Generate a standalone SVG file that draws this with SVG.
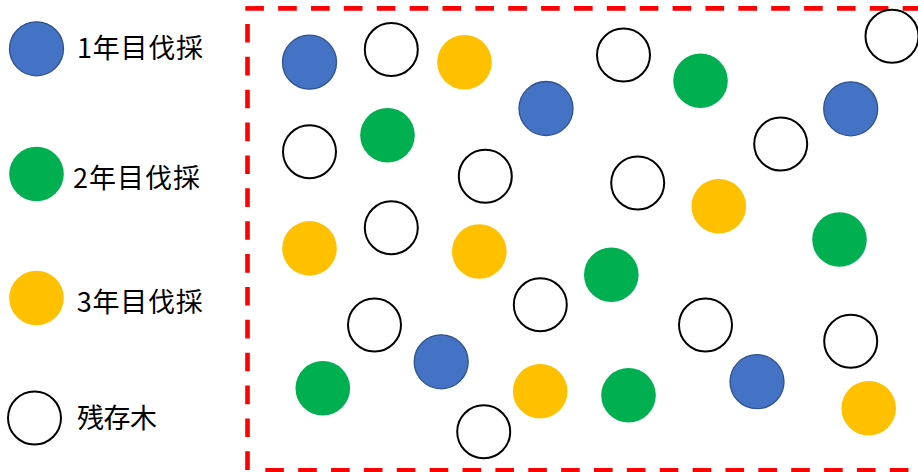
<svg xmlns="http://www.w3.org/2000/svg" width="918" height="472" viewBox="0 0 918 472">
<style>
.y1{fill:#4472C4;stroke:#2F528F;stroke-width:1.3}
.y2{fill:#00B050}
.y3{fill:#FFC000}
.rt{fill:#FFFFFF;stroke:#000000;stroke-width:2}
.lbl{font-family:"Noto Sans CJK JP","Noto Sans",sans-serif;font-size:27px;fill:#000000}
.dash{fill:none;stroke:#FF0000;stroke-width:4.6;stroke-dasharray:18.6 14.27}
</style>
<rect width="918" height="472" fill="#FFFFFF"/>
<g id="legend">
  <g id="legend-1"><circle class="y1" cx="36.5" cy="48.8" r="27"/><text class="lbl" x="77" y="58" textLength="126" lengthAdjust="spacing">1年目伐採</text></g>
  <g id="legend-2"><circle class="y2" cx="36.5" cy="174" r="27.3"/><text class="lbl" x="73" y="188" textLength="127" lengthAdjust="spacing">2年目伐採</text></g>
  <g id="legend-3"><circle class="y3" cx="36.5" cy="298" r="27.3"/><text class="lbl" x="76.7" y="312" textLength="126" lengthAdjust="spacing">3年目伐採</text></g>
  <g id="legend-r"><circle class="rt" cx="34.5" cy="418" r="26.5"/><text class="lbl" x="77" y="428" textLength="80" lengthAdjust="spacing">残存木</text></g>
</g>
<g id="boundary">
  <path class="dash" d="M245.3 8.4 H930"/>
  <path class="dash" d="M247.5 24 V472"/>
  <path class="dash" d="M265.3 470.4 H930"/>
</g>
<g id="trees">
  <g id="blue">
    <circle class="y1" cx="309.5" cy="62.2" r="27"/>
    <circle class="y1" cx="546" cy="108.5" r="27"/>
    <circle class="y1" cx="850.7" cy="108.8" r="27"/>
    <circle class="y1" cx="441.2" cy="361.8" r="27"/>
    <circle class="y1" cx="757" cy="381.7" r="27"/>
  </g>
  <g id="green">
    <circle class="y2" cx="387.5" cy="135.2" r="27.3"/>
    <circle class="y2" cx="700.5" cy="80.8" r="27.3"/>
    <circle class="y2" cx="839.5" cy="239.5" r="27.3"/>
    <circle class="y2" cx="611.3" cy="274.8" r="27.3"/>
    <circle class="y2" cx="322.8" cy="388.3" r="27.3"/>
    <circle class="y2" cx="628.5" cy="395.2" r="27.3"/>
  </g>
  <g id="yellow">
    <circle class="y3" cx="464.5" cy="62.2" r="27.3"/>
    <circle class="y3" cx="309.5" cy="248.4" r="27.3"/>
    <circle class="y3" cx="479.3" cy="251.5" r="27.3"/>
    <circle class="y3" cx="718.8" cy="206.2" r="27.3"/>
    <circle class="y3" cx="540.2" cy="391.3" r="27.3"/>
    <circle class="y3" cx="868.7" cy="408.2" r="27.3"/>
  </g>
  <g id="remaining">
    <circle class="rt" cx="391.3" cy="49.5" r="26.5"/>
    <circle class="rt" cx="309.5" cy="151.7" r="26.5"/>
    <circle class="rt" cx="485.3" cy="176.3" r="26.5"/>
    <circle class="rt" cx="391.3" cy="227.7" r="26.5"/>
    <circle class="rt" cx="623.5" cy="55" r="26.5"/>
    <circle class="rt" cx="892" cy="36.2" r="26.5"/>
    <circle class="rt" cx="780.7" cy="144" r="26.5"/>
    <circle class="rt" cx="637.7" cy="183" r="26.5"/>
    <circle class="rt" cx="540.3" cy="304.7" r="26.5"/>
    <circle class="rt" cx="374.5" cy="325" r="26.5"/>
    <circle class="rt" cx="483.7" cy="431.8" r="26.5"/>
    <circle class="rt" cx="705.5" cy="325" r="26.5"/>
    <circle class="rt" cx="850.7" cy="341.2" r="26.5"/>
  </g>
</g>
</svg>
